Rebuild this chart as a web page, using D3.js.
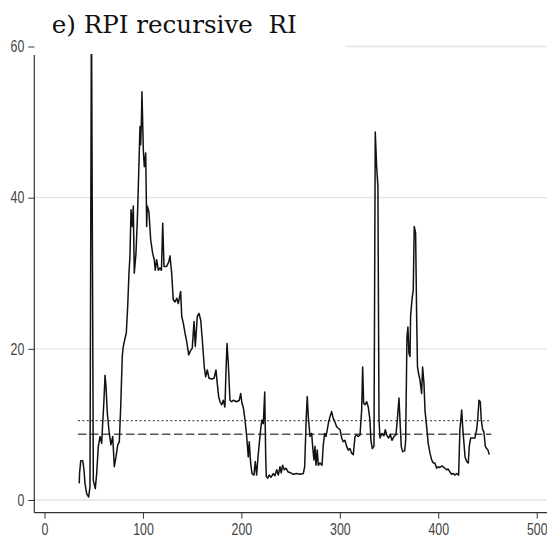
<!DOCTYPE html>
<html>
<head>
<meta charset="utf-8">
<script src="https://cdn.jsdelivr.net/npm/d3@7"></script>
<style>
  html, body { margin: 0; padding: 0; background: #fff; }
  svg { display: block; }
</style>
</head>
<body>
<svg id="chart" width="547" height="545"></svg>
<script>
// Recursive RI estimates for RPI, by observation
const periods = [
  35.3, 35.6, 36.8, 38.8, 40.1, 41.1, 42.9, 44.9, 46.2, 47.7,
  49.6, 51.6, 53.0, 54.6, 56.4, 58.1, 59.1, 60.4, 61.5, 62.5,
  63.8, 65.8, 67.5, 69.3, 70.9, 72.6, 74.4, 76.0, 77.4, 79.0,
  80.0, 81.5, 83.1, 84.5, 85.8, 86.8, 87.9, 89.2, 90.2, 91.2,
  92.9, 94.3, 95.7, 97.0, 97.7, 98.5, 99.0, 100.4, 101.4, 102.8,
  103.8, 104.4, 106.1, 107.9, 109.9, 111.5, 112.5, 113.9, 115.6, 117.3,
  118.8, 120.1, 121.4, 124.1, 126.2, 127.5, 129.2, 130.8, 132.6, 134.3,
  135.9, 138.3, 139.4, 141.0, 142.7, 144.4, 146.5, 148.5, 150.1, 151.9,
  153.2, 155.2, 156.9, 158.7, 160.3, 162.3, 163.7, 165.4, 167.1, 169.8,
  172.2, 174.2, 175.5, 176.9, 178.3, 180.0, 181.6, 183.3, 184.4, 185.4,
  186.7, 188.4, 190.1, 191.8, 195.2, 197.9, 199.3, 200.6, 201.9, 203.7,
  205.4, 207.0, 208.0, 209.4, 210.8, 212.8, 214.1, 215.5, 216.9, 218.2,
  219.9, 220.9, 222.3, 223.7, 224.7, 225.3, 226.7, 228.3, 230.1, 232.4,
  234.1, 235.9, 237.5, 239.2, 240.5, 241.9, 243.6, 245.3, 247.6, 250.1,
  252.7, 256.2, 259.5, 262.9, 264.3, 265.9, 266.9, 268.0, 269.7, 271.4,
  272.4, 273.7, 274.8, 275.8, 277.1, 278.1, 279.8, 281.9, 283.2, 284.6,
  285.9, 287.3, 288.7, 290.0, 291.7, 293.3, 294.8, 296.8, 298.4, 300.2,
  301.9, 303.5, 305.2, 306.9, 308.6, 310.3, 312.0, 313.7, 315.4, 317.1,
  318.7, 320.5, 322.2, 323.2, 324.2, 325.5, 327.3, 328.9, 330.6, 331.6,
  333.0, 334.7, 336.0, 337.4, 338.7, 339.8, 340.8, 342.8, 344.8, 346.2,
  347.9, 349.6, 351.2, 353.0, 355.0, 357.0, 358.4, 360.1, 361.1, 362.4,
  363.8, 365.9, 366.9, 368.2, 369.2, 370.2, 371.3, 371.9, 373.3, 374.6,
  375.6, 377.0, 378.1, 378.9, 379.9, 381.4, 383.1, 384.1, 385.5, 386.5,
  388.2, 389.8, 391.6, 393.3, 394.9, 396.6, 398.4, 400.0, 401.7, 403.5,
  405.1, 406.8, 408.5, 410.1, 411.9, 413.6, 415.2, 417.0, 418.7, 420.7,
  422.0, 423.8, 424.8, 426.1, 427.2, 428.9, 430.5, 431.5, 432.9, 434.2,
  435.6, 437.3, 439.0, 440.0, 441.4, 442.7, 443.7, 445.1, 446.4, 447.8,
  449.2, 450.5, 451.8
];

const riValues = [
  2.2, 3.5, 5.2, 5.2, 4.0, 2.2, 0.8, 0.4, 1.8, 66.0,
  2.6, 1.5, 3.5, 7.0, 8.4, 7.5, 10.1, 13.2, 16.5, 15.0,
  11.5, 8.8, 7.3, 8.4, 4.4, 5.7, 7.3, 7.7, 12.3, 19.0,
  20.3, 21.2, 22.1, 25.6, 30.0, 32.2, 38.4, 36.2, 38.9, 30.0,
  32.6, 37.0, 43.2, 49.4, 47.0, 50.5, 54.0, 46.3, 44.1, 45.9,
  36.2, 38.9, 38.1, 34.4, 32.6, 31.8, 30.4, 31.8, 30.4, 30.7,
  30.4, 36.6, 30.9, 30.9, 31.5, 32.3, 30.0, 26.5, 26.2, 26.7,
  26.0, 27.6, 24.3, 23.4, 22.1, 21.0, 19.2, 19.8, 20.1, 23.6,
  20.3, 24.3, 24.7, 23.8, 21.2, 17.6, 16.3, 17.2, 16.1, 16.0,
  16.1, 17.2, 15.4, 13.7, 13.0, 12.6, 13.2, 12.3, 17.2, 20.7,
  18.1, 13.2, 13.0, 13.2, 13.0, 13.2, 14.1, 12.8, 12.3, 10.6,
  8.4, 5.7, 7.7, 4.9, 3.5, 3.3, 5.1, 3.3, 5.7, 7.5,
  9.7, 10.6, 10.1, 14.3, 5.8, 3.1, 2.9, 3.3, 3.0, 3.5,
  3.2, 4.0, 3.3, 4.4, 3.6, 4.6, 4.0, 4.2, 3.7, 3.6,
  3.4, 3.5, 3.4, 3.5, 4.4, 11.0, 13.7, 11.0, 8.4, 8.8,
  7.1, 5.3, 7.1, 4.6, 6.6, 4.6, 4.9, 4.6, 7.3, 8.8,
  8.4, 9.3, 10.4, 11.0, 11.7, 10.8, 10.4, 9.7, 9.5, 9.3,
  8.2, 7.7, 7.9, 7.1, 6.6, 6.8, 6.2, 6.0, 8.4, 8.6,
  8.4, 8.6, 11.9, 17.6, 12.8, 12.6, 13.0, 12.3, 10.6, 7.9,
  6.8, 7.1, 48.7, 44.1, 41.5, 10.6, 8.2, 8.8, 8.5, 9.3,
  8.5, 8.2, 8.7, 7.9, 8.4, 8.6, 10.6, 13.5, 10.6, 7.1,
  6.4, 6.5, 7.9, 21.6, 22.9, 19.4, 19.0, 24.3, 26.5, 27.8,
  36.2, 35.3, 23.8, 17.6, 16.8, 15.9, 14.1, 17.6, 15.4, 11.9,
  9.7, 7.5, 6.2, 5.3, 4.9, 4.9, 4.2, 4.4, 4.3, 4.5,
  4.4, 4.2, 4.0, 4.1, 3.7, 3.4, 3.5, 3.3, 3.5, 3.3,
  9.3, 11.9, 9.7, 7.5, 5.7, 5.1, 4.9, 7.1, 8.2, 8.2,
  8.2, 8.2, 9.3, 10.6, 13.2, 13.0, 10.6, 9.3, 9.0, 7.1,
  6.8, 6.6, 6.0
];

// Horizontal reference levels (dotted upper, dashed lower) and their span
const upperLevel = 10.5;
const lowerLevel = 8.7;
const refSpan = [34, 454];

const xTicks = [0, 100, 200, 300, 400, 500];
const yTicks = [0, 20, 40, 60];
const titleText = "e) RPI recursive  RI";

const W = 547, H = 545;
const axisX = 34.3;      // position of the vertical axis line
const axisY = 512.7;     // position of the horizontal axis line

const x = d3.scaleLinear().domain([0, 500]).range([44.5, 536.7]);
const y = d3.scaleLinear().domain([0, 60]).range([500, 46.5]);

const svg = d3.select("#chart");
svg.append("rect").attr("width", W).attr("height", H).attr("fill", "#fff");

// light horizontal gridlines
svg.append("g")
  .selectAll("line")
  .data(yTicks)
  .join("line")
  .attr("x1", axisX).attr("x2", W)
  .attr("y1", d => y(d)).attr("y2", d => y(d))
  .attr("stroke", "#e3e3e3")
  .attr("stroke-width", 1.3);

// reference levels
svg.append("line")
  .attr("x1", x(refSpan[0])).attr("x2", x(refSpan[1]))
  .attr("y1", y(upperLevel)).attr("y2", y(upperLevel))
  .attr("stroke", "#555").attr("stroke-width", 1.3)
  .attr("stroke-dasharray", "2,2.4");
svg.append("line")
  .attr("x1", x(refSpan[0])).attr("x2", x(refSpan[1]))
  .attr("y1", y(lowerLevel)).attr("y2", y(lowerLevel))
  .attr("stroke", "#555").attr("stroke-width", 1.6)
  .attr("stroke-dasharray", "8.5,3.5");

// the RI series
const series = periods.map((p, i) => [p, riValues[i]]);
svg.append("path")
  .datum(series)
  .attr("fill", "none")
  .attr("stroke", "#111")
  .attr("stroke-width", 1.5)
  .attr("stroke-linejoin", "round")
  .attr("d", d3.line().x(d => x(d[0])).y(d => y(d[1])));

// title panel sits above the top of the plot
svg.append("rect")
  .attr("x", 35).attr("y", 0)
  .attr("width", 310).attr("height", 54)
  .attr("fill", "#fff");

// axes
const labelScale = 0.75;

const gx = svg.append("g")
  .attr("transform", `translate(0,${axisY})`)
  .call(d3.axisBottom(x).tickValues(xTicks).tickSize(6).tickPadding(5).tickSizeOuter(0));
gx.select(".domain").remove();
gx.selectAll(".tick line").attr("stroke", "#333");
gx.selectAll(".tick text")
  .attr("font-family", "'Liberation Sans', Arial, sans-serif")
  .attr("font-size", 16.5)
  .attr("fill", "#444")
  .attr("transform", `scale(${labelScale},1)`);
gx.append("line")
  .attr("x1", axisX).attr("x2", W)
  .attr("y1", 0).attr("y2", 0)
  .attr("stroke", "#333").attr("stroke-width", 1.2);

const gy = svg.append("g")
  .attr("transform", `translate(${axisX},0)`)
  .call(d3.axisLeft(y).tickValues(yTicks).tickSize(6).tickPadding(3).tickSizeOuter(0));
gy.select(".domain").remove();
gy.selectAll(".tick line").attr("stroke", "#333");
gy.selectAll(".tick text")
  .attr("font-family", "'Liberation Sans', Arial, sans-serif")
  .attr("font-size", 16.5)
  .attr("fill", "#444")
  .attr("x", -10 / labelScale)
  .attr("transform", `scale(${labelScale},1)`);
gy.append("line")
  .attr("x1", 0).attr("x2", 0)
  .attr("y1", 55).attr("y2", axisY)
  .attr("stroke", "#333").attr("stroke-width", 1.2);

// title
svg.append("text")
  .attr("x", 51.7)
  .attr("y", 33.3)
  .attr("font-family", "'DejaVu Serif', 'Liberation Serif', serif")
  .attr("font-size", 24)
  .attr("fill", "#111")
  .attr("textLength", 245)
  .attr("lengthAdjust", "spacingAndGlyphs")
  .style("white-space", "pre")
  .text(titleText);
</script>
</body>
</html>
